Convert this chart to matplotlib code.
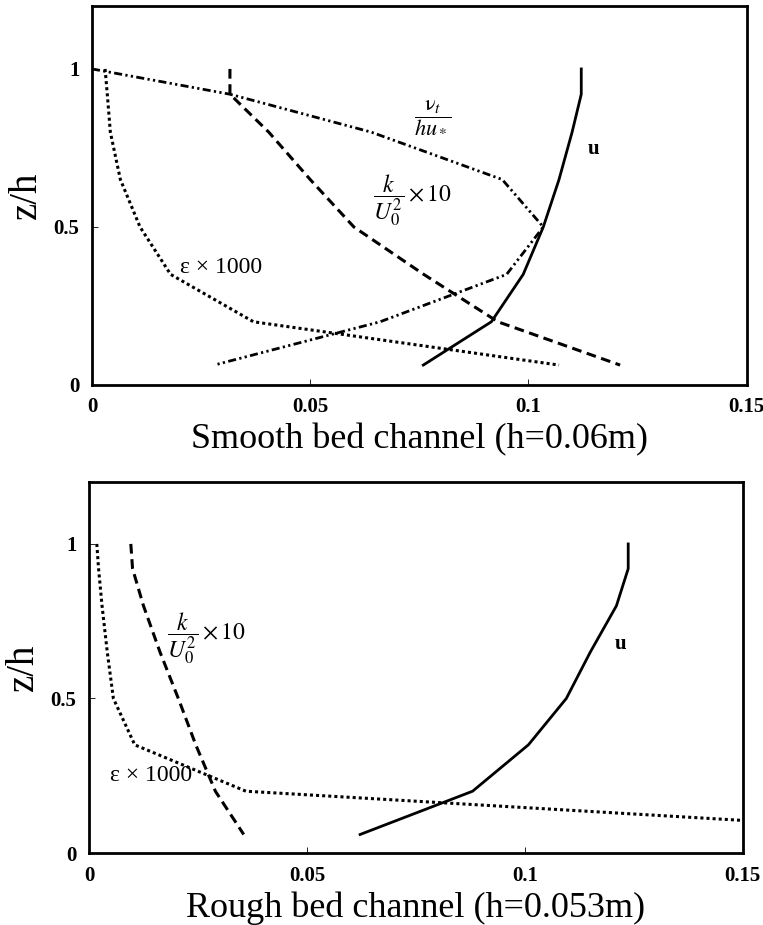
import matplotlib
matplotlib.use('Agg')
import matplotlib.pyplot as plt

plt.rcParams['font.family'] = ['Liberation Serif', 'DejaVu Serif']
plt.rcParams['mathtext.fontset'] = 'stix'
plt.rcParams['lines.scale_dashes'] = False

# depth points (z/h), shared by all profiles of a panel
z_smooth = [1.0, 0.92, 0.8, 0.65, 0.5, 0.35, 0.2, 0.063]
z_rough = [1.0, 0.92, 0.8, 0.65, 0.5, 0.35, 0.2, 0.06]

# smooth bed channel (h=0.06m)
u_smooth = [0.1121, 0.1121, 0.110, 0.107, 0.1034, 0.0988, 0.0915, 0.0759]
k_smooth = [0.0316, 0.0316, 0.0405, 0.050, 0.060, 0.076, 0.093, 0.121]
eps_smooth = [0.003, 0.0035, 0.0042, 0.0065, 0.011, 0.018, 0.037, 0.107]
nut_smooth = [0.0, 0.0316, 0.064, 0.094, 0.1034, 0.095, 0.066, 0.028]

# rough bed channel (h=0.053m)
u_rough = [0.1237, 0.1237, 0.121, 0.115, 0.1095, 0.1008, 0.088, 0.0622]
k_rough = [0.0096, 0.010, 0.0125, 0.0163, 0.0205, 0.0245, 0.029, 0.0355]
eps_rough = [0.0018, 0.0022, 0.003, 0.0042, 0.0056, 0.0105, 0.036, 0.205]

xticks = [0, 0.05, 0.1, 0.15]
xticklabels = ['0', '0.05', '0.1', '0.15']
yticks = [0, 0.5, 1]
yticklabels = ['0', '0.5', '1']

dashed = (0, (7, 4))
dotted = (0, (2.2, 2.2))
dashdotdot = (0, (5.8, 2.4, 1.6, 2.4, 1.6, 2.4))


def setup(ax, xlabel):
    ax.set_xlim(0, 0.15)
    ax.set_ylim(0, 1.2)
    ax.set_xticks(xticks)
    ax.set_xticklabels(xticklabels)
    ax.set_yticks(yticks)
    ax.set_yticklabels(yticklabels)
    ax.tick_params(direction='in', length=4, width=0.6, labelsize=15, pad=9)
    for lab in ax.get_xticklabels() + ax.get_yticklabels():
        lab.set_fontweight('bold')
    for s in ax.spines.values():
        s.set_linewidth(2)
    ax.set_xlabel(xlabel, fontsize=26, labelpad=4)
    ax.set_ylabel('z/h', fontsize=28, labelpad=6)


fig = plt.figure(figsize=(7.63, 9.25), dpi=100)

ax1 = fig.add_axes([0.1206, 0.5838, 0.858, 0.41])
ax1.plot(u_smooth, z_smooth, color='black', lw=2.0)
ax1.plot(k_smooth, z_smooth, color='black', lw=2.2, linestyle=dashed)
ax1.plot(eps_smooth, z_smooth, color='black', lw=2.2, linestyle=dotted)
ax1.plot(nut_smooth, z_smooth, color='black', lw=2.0, linestyle=dashdotdot)
setup(ax1, 'Smooth bed channel (h=0.06m)')
ax1.text(0.078, 0.85, r'$\dfrac{\mathrm{\nu}_t}{hu_*}$', fontsize=16, ha='center', va='center')
ax1.text(0.0735, 0.584, r'$\dfrac{k}{U_0^2}\times 10$', fontsize=17, ha='center', va='center')
ax1.text(0.0202, 0.372, 'ε × 1000', fontsize=17, ha='left', va='center')
ax1.text(0.1135, 0.747, 'u', fontsize=15, fontweight='bold', ha='left', va='center')

ax2 = fig.add_axes([0.1166, 0.0778, 0.857, 0.401])
ax2.plot(u_rough, z_rough, color='black', lw=2.0)
ax2.plot(k_rough, z_rough, color='black', lw=2.2, linestyle=dashed)
ax2.plot(eps_rough, z_rough, color='black', lw=2.2, linestyle=dotted)
setup(ax2, 'Rough bed channel (h=0.053m)')
ax2.text(0.027, 0.697, r'$\dfrac{k}{U_0^2}\times 10$', fontsize=17, ha='center', va='center')
ax2.text(0.0048, 0.252, 'ε × 1000', fontsize=17, ha='left', va='center')
ax2.text(0.1205, 0.676, 'u', fontsize=15, fontweight='bold', ha='left', va='center')

fig.savefig('out.png', dpi=100)
